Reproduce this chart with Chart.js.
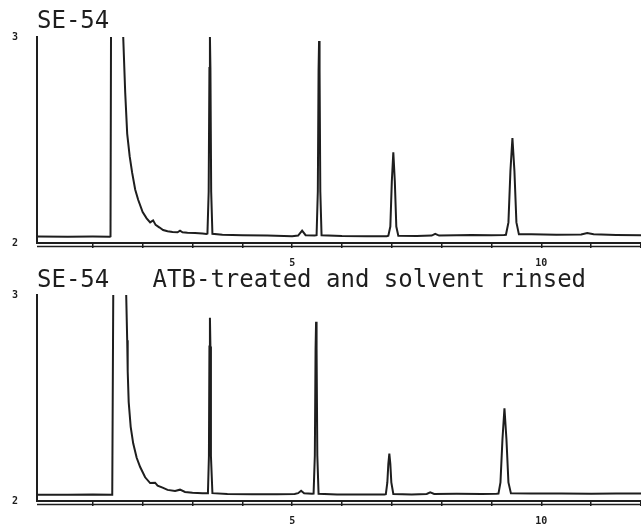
<!DOCTYPE html>
<html>
<head>
<meta charset="utf-8">
<script src="https://cdn.jsdelivr.net/npm/chart.js@4/dist/chart.umd.min.js"></script>
<style>
  body { margin: 0; background: #fff; }
  canvas { display: block; }
</style>
</head>
<body>
<canvas id="arriba" width="641" height="268"></canvas>
<canvas id="abajo" width="641" height="257"></canvas>
<script>
const tiemposArriba = [-0.12, 0.5, 1.0, 1.34, 1.355, 1.365, 1.5,
  1.61, 1.65, 1.69, 1.74, 1.79, 1.85, 1.91, 2.0, 2.08, 2.15, 2.21, 2.26, 2.34, 2.41, 2.5, 2.6, 2.7, 2.75, 2.8, 2.9, 3.05, 3.2, 3.28,
  3.30, 3.325, 3.34, 3.35, 3.36, 3.375, 3.40,
  3.6, 4.0, 4.5, 5.0, 5.12, 5.2, 5.27, 5.45,
  5.49, 5.515, 5.53, 5.54, 5.55, 5.565, 5.59,
  6.0, 6.5, 6.9,
  6.93, 6.97, 7.0, 7.03, 7.06, 7.09, 7.13,
  7.5, 7.8, 7.87, 7.95, 8.3, 8.6, 9.0, 9.25,
  9.29, 9.34, 9.38, 9.42, 9.46, 9.50, 9.55,
  9.8, 10.3, 10.8, 10.92, 11.05, 11.5, 12.0];
const senalArriba = [3.2, 3.0, 3.1, 3.0, 3.2, 100, null,
  100, 73, 53, 42, 34, 26, 21, 15, 12, 10, 11, 8.8, 7.5, 6.3, 5.7, 5.3, 5.2, 6.0, 5.2, 5.0, 4.8, 4.6, 4.4,
  4.6, 25, 85, 100, 85, 25, 4.5,
  4.0, 3.8, 3.6, 3.3, 3.6, 6.0, 3.8, 3.6,
  3.8, 25, 84, 98, 84, 25, 3.8,
  3.4, 3.3, 3.3,
  3.5, 8, 30, 44, 30, 8, 3.5,
  3.4, 3.6, 4.4, 3.6, 3.8, 3.9, 3.8, 3.9,
  4.0, 10, 35, 51, 35, 10, 4.2,
  4.2, 4.0, 4.1, 4.8, 4.2, 3.9, 3.8];

const tiemposAbajo = [-0.12, 0.5, 1.0, 1.39, 1.40, 1.41, 1.55,
  1.67, 1.69, 1.70, 1.72, 1.76, 1.81, 1.88, 1.95, 2.05, 2.15, 2.25, 2.3, 2.4, 2.5, 2.65, 2.75, 2.85, 3.0, 3.2, 3.3,
  3.31, 3.33, 3.34, 3.35, 3.36, 3.37, 3.40,
  3.7, 4.2, 4.7, 5.05, 5.12, 5.18, 5.24, 5.40,
  5.43, 5.455, 5.47, 5.48, 5.49, 5.505, 5.53,
  5.9, 6.4, 6.85,
  6.88, 6.91, 6.93, 6.95, 6.97, 6.99, 7.03,
  7.4, 7.7, 7.77, 7.85, 8.3, 8.8, 9.1,
  9.14, 9.18, 9.22, 9.26, 9.30, 9.34, 9.39,
  9.8, 10.4, 11.0, 11.5, 12.0];
const senalAbajo = [3.0, 3.0, 3.2, 3.0, 3.0, 100, null,
  100, 78, 63, 48, 36, 28, 21, 16.5, 11.5, 8.7, 8.9, 7.5, 6.5, 5.4, 4.9, 5.5, 4.4, 4.0, 3.8, 3.8,
  3.9, 22, 75, 89, 75, 22, 3.8,
  3.4, 3.3, 3.3, 3.4, 3.8, 5.0, 3.8, 3.5,
  3.6, 22, 74, 87, 74, 22, 3.5,
  3.2, 3.1, 3.2,
  3.3, 9, 18, 23, 18, 9, 3.4,
  3.2, 3.4, 4.2, 3.4, 3.5, 3.4, 3.5,
  3.6, 9, 30, 45, 30, 9, 3.7,
  3.6, 3.6, 3.5, 3.6, 3.6];

const valoresEjeX = [5, 10];
const etiquetasEjeX = ['5', '10'];
const etiquetasEjeY = ['2', '3'];
const tituloArriba = 'SE-54';
const tituloAbajo = 'SE-54   ATB-treated and solvent rinsed';

const TINTA = '#1e1e1e';
const FUENTE = '"DejaVu Sans Mono", monospace';

function armarPuntos(tiempos, senal) {
  return tiempos.map((t, i) => ({ x: t, y: senal[i] }));
}

// segunda linea del eje x (papel de registrador)
const lineaDoble = {
  id: 'lineaDoble',
  afterDraw(chart) {
    const { ctx, chartArea } = chart;
    ctx.save();
    ctx.strokeStyle = TINTA;
    ctx.lineWidth = 1.5;
    ctx.beginPath();
    ctx.moveTo(chartArea.left, chartArea.bottom + 3.5);
    ctx.lineTo(chartArea.right, chartArea.bottom + 3.5);
    ctx.stroke();
    ctx.restore();
  }
};

function graficar(id, titulo, puntos, altoEjeX, padTitulo) {
  const ctx = document.getElementById(id).getContext('2d');
  return new Chart(ctx, {
    type: 'line',
    data: {
      datasets: [{
        data: puntos,
        borderColor: TINTA,
        borderWidth: 2,
        pointRadius: 0,
        tension: 0,
        spanGaps: false,
        fill: false
      }]
    },
    plugins: [lineaDoble],
    options: {
      responsive: false,
      animation: false,
      devicePixelRatio: 1,
      layout: { padding: 0 },
      plugins: {
        legend: { display: false },
        tooltip: { enabled: false },
        title: {
          display: true,
          text: titulo,
          align: 'start',
          fullSize: false,
          color: TINTA,
          font: { family: FUENTE, size: 24, weight: 'normal', lineHeight: 1 },
          padding: padTitulo
        }
      },
      scales: {
        x: {
          type: 'linear',
          min: -0.12,
          max: 12,
          afterFit(scale) {
            scale.height = altoEjeX;
            scale.paddingLeft = 0;
            scale.paddingRight = 0;
          },
          afterBuildTicks(scale) {
            scale.ticks = scale.ticks.filter(t => Number.isInteger(t.value));
          },
          ticks: {
            stepSize: 1,
            autoSkip: false,
            maxRotation: 0,
            padding: 9,
            color: TINTA,
            font: { family: FUENTE, size: 10, weight: 'bold' },
            callback: v => {
              const i = valoresEjeX.indexOf(v);
              return i >= 0 ? etiquetasEjeX[i] : '';
            }
          },
          grid: { drawOnChartArea: false, drawTicks: true, tickLength: 5, color: TINTA, lineWidth: 1.5 },
          border: { display: true, color: TINTA, width: 2 }
        },
        y: {
          type: 'linear',
          min: 0,
          max: 100,
          afterFit(scale) { scale.width = 37; },
          afterBuildTicks(scale) {
            scale.ticks = [{ value: 0 }, { value: 100 }];
          },
          ticks: {
            padding: 11,
            color: TINTA,
            font: { family: FUENTE, size: 10, weight: 'bold' },
            callback: (v, i) => etiquetasEjeY[i]
          },
          grid: { display: false },
          border: { display: true, color: TINTA, width: 2 }
        }
      }
    }
  });
}

graficar('arriba', tituloArriba, armarPuntos(tiemposArriba, senalArriba), 25, { top: 10, bottom: 3 });
graficar('abajo', tituloAbajo, armarPuntos(tiemposAbajo, senalAbajo), 24, { top: 1, bottom: 2 });
</script>
</body>
</html>
